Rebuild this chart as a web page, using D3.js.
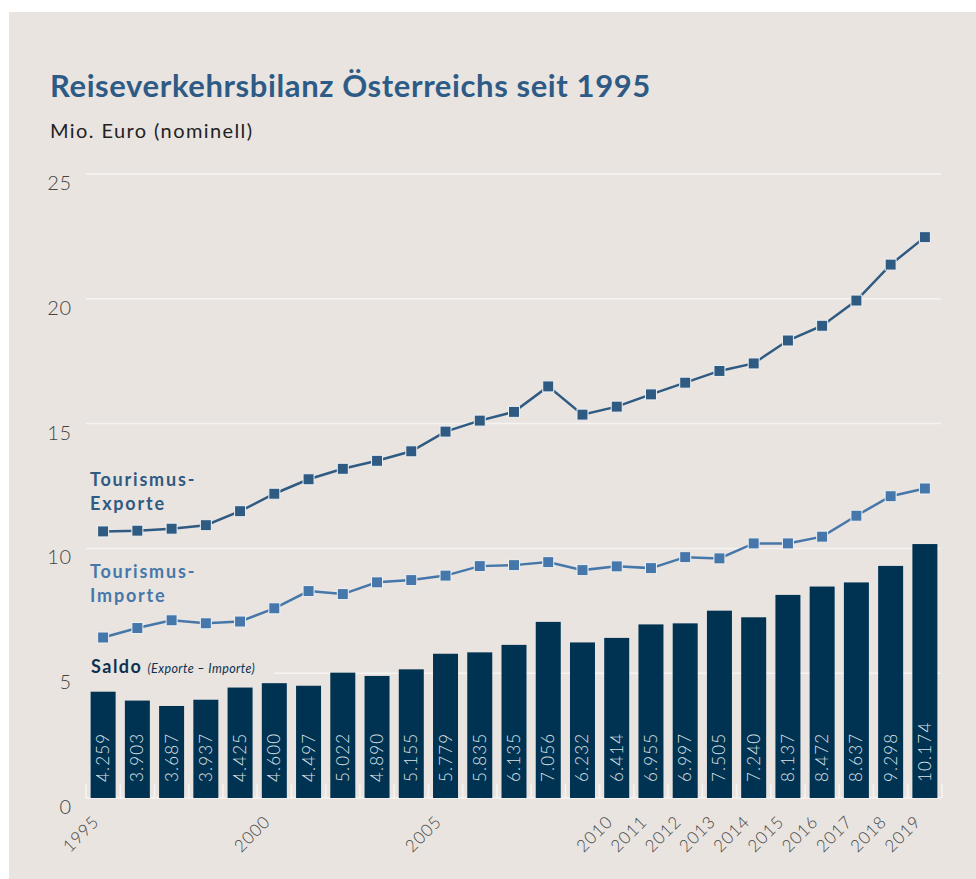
<!DOCTYPE html>
<html>
<head>
<meta charset="utf-8">
<script src="https://cdn.jsdelivr.net/npm/d3@7"></script>
<style>
  body { margin: 0; background: #fff; }
  text { font-family: Lato, "Open Sans", sans-serif; }
</style>
</head>
<body>
<svg id="chart"></svg>
<script>
var years = [1995, 1996, 1997, 1998, 1999, 2000, 2001, 2002, 2003, 2004, 2005, 2006,
  2007, 2008, 2009, 2010, 2011, 2012, 2013, 2014, 2015, 2016, 2017, 2018, 2019];
var exporte = [10.68, 10.71, 10.79, 10.93, 11.49, 12.19, 12.77, 13.19, 13.51, 13.89, 14.68, 15.12,
  15.47, 16.49, 15.36, 15.68, 16.17, 16.64, 17.11, 17.41, 18.33, 18.92, 19.93, 21.37, 22.47];
var importe = [6.43, 6.81, 7.12, 7.00, 7.07, 7.60, 8.29, 8.17, 8.64, 8.73, 8.91, 9.29,
  9.33, 9.45, 9.13, 9.28, 9.21, 9.65, 9.60, 10.20, 10.20, 10.47, 11.31, 12.09, 12.40];
var saldo = [4.259, 3.903, 3.687, 3.937, 4.425, 4.600, 4.497, 5.022, 4.890, 5.155, 5.779, 5.835,
  6.135, 7.056, 6.232, 6.414, 6.955, 6.997, 7.505, 7.240, 8.137, 8.472, 8.637, 9.298, 10.174];
var shownYears = [1995, 2000, 2005, 2010, 2011, 2012, 2013, 2014, 2015, 2016, 2017, 2018, 2019];
var yTicks = [0, 5, 10, 15, 20, 25];

var width = 976, height = 879;
var bg = "#e9e4e0";
var colExp = "#2f5a82", colImp = "#4677aa", colBar = "#003252";

var svg = d3.select("#chart").attr("width", width).attr("height", height);

svg.append("rect").attr("x", 9).attr("y", 12)
  .attr("width", width - 9).attr("height", height - 12).attr("fill", bg);

var x = d3.scaleBand().domain(years).range([86, 942])
  .paddingInner(0.27).paddingOuter(0.135);
var y = d3.scaleLinear().domain([0, 25]).range([798, 174]);
var cx = function(yr) { return x(yr) + x.bandwidth() / 2; };

// title
svg.append("text").attr("x", 50).attr("y", 97)
  .attr("font-size", 31).attr("font-weight", 700).attr("letter-spacing", 0.6).attr("fill", "#2e5b86")
  .text("Reiseverkehrsbilanz Österreichs seit 1995");
svg.append("text").attr("x", 50).attr("y", 138)
  .attr("font-size", 20).attr("letter-spacing", 1.4).attr("fill", "#222")
  .text("Mio. Euro (nominell)");

// grid
svg.append("g").selectAll("line").data(yTicks).enter().append("line")
  .attr("x1", 86).attr("x2", 941)
  .attr("y1", function(d) { return y(d); }).attr("y2", function(d) { return y(d); })
  .attr("stroke", "#f6f4f2").attr("stroke-width", 1.5);

svg.append("g").selectAll("text").data(yTicks).enter().append("text")
  .attr("x", 72).attr("y", function(d) { return y(d) + 16; })
  .attr("text-anchor", "end").attr("font-size", 20).attr("font-weight", 300)
  .attr("letter-spacing", 0.8).attr("fill", "#444").text(function(d) { return d; });

// saldo label (covers grid line)
svg.append("rect").attr("x", 86).attr("y", 656).attr("width", 188).attr("height", 24).attr("fill", bg);
var sl = svg.append("text").attr("x", 91).attr("y", 673).attr("fill", "#0d3151");
sl.append("tspan").attr("font-size", 18).attr("font-weight", 700).attr("letter-spacing", 1.5).text("Saldo");
sl.append("tspan").attr("dx", 5).attr("font-size", 12.5).attr("font-style", "italic")
  .attr("letter-spacing", 0.4).text("(Exporte – Importe)");

// bars
svg.append("g").selectAll("rect").data(years).enter().append("rect")
  .attr("x", function(d) { return x(d); })
  .attr("width", x.bandwidth())
  .attr("y", function(d, i) { return y(saldo[i]); })
  .attr("height", function(d, i) { return y(0) - y(saldo[i]); })
  .attr("fill", colBar);

// ticks at band edges
var edges = years.map(function(d) { return x(d) - x.step() * x.paddingInner() / 2; });
edges.push(edges[edges.length - 1] + x.step());
svg.append("g").selectAll("line").data(edges).enter().append("line")
  .attr("x1", function(d) { return d; }).attr("x2", function(d) { return d; })
  .attr("y1", 784).attr("y2", 798)
  .attr("stroke", "#f6f4f2").attr("stroke-width", 1.5);

// bar labels
svg.append("g").selectAll("text").data(years).enter().append("text")
  .attr("transform", function(d) { return "translate(" + (cx(d) + 6) + ",782) rotate(-90)"; })
  .attr("font-size", 17).attr("font-weight", 300).attr("letter-spacing", 1.2).attr("fill", "#dfe3e8")
  .text(function(d, i) { return saldo[i].toFixed(3); });

// lines
function drawSeries(vals, col) {
  var line = d3.line().x(function(d, i) { return cx(years[i]); }).y(function(d) { return y(d); });
  svg.append("path").datum(vals).attr("d", line)
    .attr("fill", "none").attr("stroke", col).attr("stroke-width", 2.5);
  svg.append("g").selectAll("rect").data(vals).enter().append("rect")
    .attr("x", function(d, i) { return cx(years[i]) - 5.5; })
    .attr("y", function(d) { return y(d) - 5.5; })
    .attr("width", 11).attr("height", 11)
    .attr("fill", col).attr("stroke", "#eef1f4").attr("stroke-width", 1);
}
drawSeries(exporte, colExp);
drawSeries(importe, colImp);

// series labels
function seriesLabel(lines, yy, col) {
  svg.append("g").selectAll("text").data(lines).enter().append("text")
    .attr("x", 90).attr("y", function(d, i) { return yy + i * 24; })
    .attr("font-size", 18).attr("font-weight", 700).attr("letter-spacing", 1.8)
    .attr("fill", col).text(function(d) { return d; });
}
seriesLabel(["Tourismus-", "Exporte"], 486, colExp);
seriesLabel(["Tourismus-", "Importe"], 578, colImp);

// x labels
svg.append("g").selectAll("text").data(shownYears).enter().append("text")
  .attr("transform", function(d) { return "translate(" + (cx(d) - 3) + ",823) rotate(-45)"; })
  .attr("text-anchor", "end").attr("font-size", 17).attr("font-weight", 300)
  .attr("letter-spacing", 0.8).attr("fill", "#444").text(function(d) { return d; });
</script>
</body>
</html>
